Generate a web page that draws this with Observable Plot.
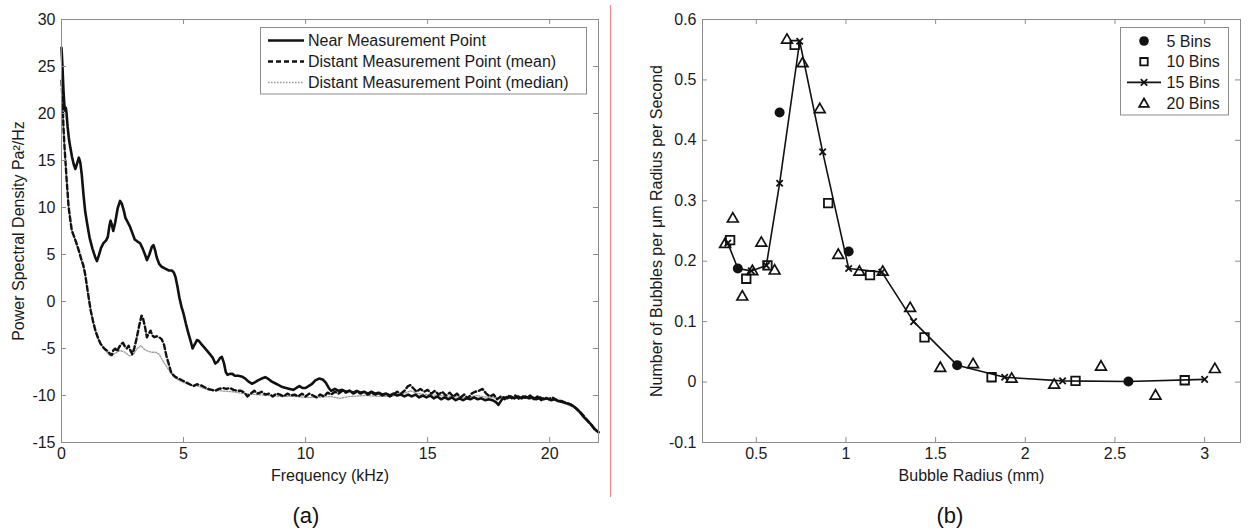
<!DOCTYPE html>
<html>
<head>
<meta charset="utf-8">
<script src="https://cdn.jsdelivr.net/npm/d3@7"></script>
<script src="https://cdn.jsdelivr.net/npm/@observablehq/plot@0.6"></script>
<style>
  html, body { margin: 0; padding: 0; background: #fff; }
  #wrap { position: relative; width: 1259px; height: 531px; background: #fff; overflow: hidden; }
  #pa { position: absolute; left: 0; top: 0; }
  #pb { position: absolute; left: 620px; top: 0; }
  #ov { position: absolute; left: 0; top: 0; pointer-events: none; }
</style>
</head>
<body>
<div id="wrap">
  <div id="pa"></div>
  <div id="pb"></div>
  <svg id="ov" width="1259" height="531"></svg>
</div>
<script>
// ---------------- Panel (a) data ----------------
const aXTicks = [0, 5, 10, 15, 20];
const aYTicks = [-15, -10, -5, 0, 5, 10, 15, 20, 25, 30];
const aSeriesNames = ["Near Measurement Point", "Distant Measurement Point (mean)", "Distant Measurement Point (median)"];

const nearFreq = [0,0.04,0.08,0.12,0.15,0.18,0.21,0.25,0.3,0.36,0.43,0.5,0.57,0.64,0.71,0.77,0.83,0.9,0.97,1.05,1.15,1.27,1.37,1.45,1.53,1.62,1.72,1.83,1.9,1.96,2.01,2.06,2.12,2.2,2.3,2.4,2.47,2.55,2.62,2.7,2.8,2.9,3.0,3.1,3.22,3.33,3.42,3.5,3.6,3.7,3.77,3.83,3.9,4.0,4.1,4.25,4.4,4.52,4.6,4.67,4.75,4.83,4.92,5.0,5.1,5.2,5.3,5.37,5.45,5.55,5.63,5.72,5.82,5.95,6.08,6.2,6.3,6.4,6.5,6.57,6.65,6.73,6.8,6.9,7.0,7.1,7.25,7.4,7.53,7.65,7.8,7.92,8.05,8.2,8.35,8.45,8.6,8.75,8.9,9.05,9.2,9.35,9.5,9.62,9.75,9.87,10.0,10.12,10.25,10.4,10.55,10.7,10.82,10.95,11.05,11.2,11.35,11.5,11.65,11.8,11.95,12.1,12.25,12.4,12.55,12.7,12.85,13.0,13.15,13.3,13.45,13.6,13.75,13.9,14.05,14.2,14.35,14.5,14.65,14.8,14.95,15.1,15.25,15.4,15.55,15.7,15.85,16.0,16.15,16.3,16.45,16.6,16.75,16.9,17.05,17.2,17.35,17.5,17.65,17.8,17.9,18.0,18.1,18.25,18.4,18.55,18.7,18.85,19.0,19.15,19.3,19.45,19.6,19.75,19.9,20.05,20.2,20.35,20.5,20.65,20.8,20.95,21.1,21.25,21.4,21.55,21.7,21.85,22.0];
const nearPSD = [27.0,25.0,22.5,20.8,20.3,20.6,19.9,18.6,17.4,16.4,15.4,14.6,14.1,14.7,15.3,14.8,13.5,11.4,9.6,8.3,6.8,5.6,4.8,4.3,4.9,5.7,6.2,6.5,6.9,8.0,8.6,8.2,7.5,8.4,9.9,10.7,10.4,9.7,8.9,8.5,8.0,7.3,6.6,6.4,6.2,5.6,5.0,4.4,5.0,5.8,6.0,5.5,4.7,4.0,3.7,3.5,3.3,3.3,3.1,2.6,1.6,0.4,-0.6,-1.3,-2.4,-3.4,-4.3,-5.0,-4.6,-4.1,-4.2,-4.5,-4.8,-5.2,-5.6,-6.0,-6.6,-6.4,-6.0,-5.9,-6.5,-7.5,-7.8,-7.7,-7.7,-7.9,-7.9,-8.0,-8.2,-8.5,-8.75,-8.6,-8.4,-8.2,-8.05,-8.2,-8.5,-8.7,-8.9,-9.1,-9.2,-9.3,-9.4,-9.2,-9.0,-9.2,-9.2,-9.0,-8.8,-8.4,-8.2,-8.3,-8.6,-9.2,-9.5,-9.3,-9.5,-9.4,-9.6,-9.5,-9.7,-9.5,-9.7,-9.6,-9.8,-9.6,-9.8,-9.7,-9.9,-9.8,-10.0,-9.8,-10.0,-9.9,-10.1,-9.9,-10.1,-9.9,-10.2,-10.0,-10.2,-10.0,-10.3,-10.1,-10.4,-10.2,-10.4,-10.2,-10.5,-10.3,-10.5,-10.3,-10.4,-10.2,-10.4,-10.3,-10.5,-10.4,-10.5,-10.7,-11.0,-10.6,-10.2,-10.3,-10.1,-10.3,-10.1,-10.3,-10.1,-10.3,-10.2,-10.4,-10.2,-10.4,-10.3,-10.5,-10.4,-10.6,-10.6,-10.8,-10.9,-11.1,-11.4,-11.8,-12.3,-12.7,-13.1,-13.6,-13.9];

const meanFreq = [0,0.04,0.08,0.12,0.16,0.22,0.29,0.36,0.42,0.5,0.6,0.7,0.8,0.9,0.97,1.05,1.12,1.2,1.3,1.4,1.5,1.6,1.75,1.9,2.0,2.06,2.12,2.2,2.28,2.35,2.45,2.52,2.6,2.68,2.75,2.82,2.9,2.98,3.08,3.18,3.28,3.35,3.42,3.5,3.58,3.65,3.72,3.8,3.9,4.0,4.1,4.2,4.3,4.4,4.5,4.65,4.8,4.95,5.1,5.25,5.4,5.55,5.7,5.85,6.0,6.15,6.3,6.45,6.6,6.75,6.9,7.05,7.2,7.35,7.5,7.62,7.75,7.9,8.05,8.2,8.35,8.5,8.65,8.8,8.95,9.1,9.25,9.4,9.55,9.7,9.85,10.0,10.15,10.3,10.45,10.6,10.75,10.9,11.05,11.2,11.35,11.5,11.65,11.8,11.95,12.1,12.25,12.4,12.55,12.7,12.85,13.0,13.15,13.3,13.45,13.6,13.75,13.9,14.05,14.2,14.3,14.4,14.55,14.7,14.85,15.0,15.15,15.3,15.45,15.6,15.75,15.9,16.05,16.2,16.35,16.5,16.65,16.8,16.95,17.1,17.25,17.4,17.55,17.7,17.85,18.0,18.15,18.3,18.45,18.6,18.75,18.9,19.05,19.2,19.35,19.5,19.65,19.8,19.95,20.1,20.3,20.5,20.7,20.9,21.1,21.3,21.5,21.7,21.85,22.0];
const meanPSD = [23.5,21.5,18.6,16.6,15.0,12.6,10.1,8.7,7.6,7.0,6.3,5.5,4.6,3.8,2.9,1.5,0.3,-1.0,-2.2,-3.2,-3.9,-4.5,-5.0,-5.3,-5.6,-5.7,-5.2,-5.0,-5.3,-4.9,-4.5,-4.4,-4.8,-5.0,-4.7,-5.2,-5.6,-5.0,-3.9,-2.6,-1.5,-1.9,-2.7,-3.8,-3.4,-3.1,-3.6,-3.8,-3.7,-3.8,-4.0,-4.6,-5.8,-6.7,-7.6,-8.0,-8.2,-8.4,-8.6,-8.8,-9.0,-8.8,-8.9,-9.1,-9.3,-9.4,-9.5,-9.3,-9.2,-9.3,-9.2,-9.4,-9.5,-9.5,-9.7,-10.1,-9.8,-9.5,-9.8,-9.6,-9.9,-9.8,-10.1,-9.8,-9.9,-10.1,-9.8,-10.0,-9.9,-10.1,-9.8,-10.1,-9.8,-10.0,-10.2,-9.9,-10.1,-9.7,-9.9,-9.6,-9.8,-9.5,-9.7,-9.5,-9.8,-9.6,-9.8,-9.6,-9.9,-9.7,-9.9,-9.8,-10.0,-9.8,-10.1,-9.9,-9.6,-9.8,-9.5,-9.0,-8.9,-9.2,-9.6,-9.3,-9.6,-9.4,-9.8,-9.5,-9.9,-9.6,-10.0,-9.7,-10.1,-9.8,-10.2,-9.9,-10.3,-9.8,-9.6,-9.5,-9.3,-9.8,-10.1,-9.9,-10.4,-10.1,-10.4,-10.0,-10.3,-10.0,-10.4,-10.1,-10.3,-10.0,-10.4,-10.1,-10.5,-10.2,-10.4,-10.2,-10.5,-10.7,-10.8,-11.0,-11.4,-11.9,-12.5,-13.1,-13.6,-13.9];

const medianFreq = [0,0.08,0.16,0.29,0.42,0.6,0.8,0.97,1.12,1.3,1.5,1.75,2.0,2.2,2.4,2.6,2.8,2.95,3.1,3.25,3.4,3.55,3.7,3.85,4.0,4.15,4.3,4.45,4.6,4.75,5.0,5.3,5.6,6.0,6.5,7.0,7.5,8.0,8.5,9.0,9.5,10.0,10.5,11.0,11.4,11.8,12.5,13.0,13.5,14.0,14.3,14.6,15.0,15.5,16.0,16.5,17.0,17.5,18.0,18.5,19.0,19.5,20.0,20.5,21.0,21.5,22.0];
const medianPSD = [23.0,18.3,14.8,10.0,7.5,6.2,4.5,2.8,0.2,-2.3,-4.0,-5.1,-5.8,-5.5,-5.2,-5.4,-5.8,-5.6,-5.0,-4.7,-5.1,-5.3,-5.4,-5.4,-5.6,-6.3,-6.9,-7.5,-8.0,-8.3,-8.6,-8.9,-9.0,-9.4,-9.5,-9.6,-9.8,-9.9,-10.0,-10.1,-10.1,-10.2,-10.2,-10.1,-10.3,-10.1,-10.0,-10.1,-10.1,-9.8,-9.5,-9.8,-9.9,-10.0,-10.1,-10.2,-10.0,-10.2,-10.3,-10.3,-10.3,-10.4,-10.4,-10.7,-11.3,-12.5,-13.9];

// ---------------- Panel (b) data ----------------
const bXTicks = [0.5, 1, 1.5, 2, 2.5, 3];
const bYTicks = [-0.1, 0, 0.1, 0.2, 0.3, 0.4, 0.5, 0.6];
const bSeriesNames = ["5 Bins", "10 Bins", "15 Bins", "20 Bins"];

const bins5R = [0.397, 0.630, 1.015, 1.620, 2.575];
const bins5N = [0.188, 0.446, 0.216, 0.028, 0.001];

const bins10R = [0.354, 0.444, 0.562, 0.714, 0.901, 1.134, 1.438, 1.812, 2.280, 2.889];
const bins10N = [0.235, 0.171, 0.193, 0.558, 0.296, 0.177, 0.074, 0.008, 0.002, 0.003];

const bins15R = [0.341, 0.397, 0.472, 0.556, 0.630, 0.742, 0.870, 1.015, 1.200, 1.377, 1.620, 1.885, 2.208, 2.575, 3.000];
const bins15N = [0.230, 0.188, 0.184, 0.193, 0.329, 0.564, 0.381, 0.188, 0.182, 0.100, 0.028, 0.008, 0.002, 0.001, 0.0045];

const bins20R = [0.326, 0.369, 0.422, 0.478, 0.528, 0.602, 0.671, 0.758, 0.854, 0.957, 1.075, 1.205, 1.358, 1.526, 1.709, 1.924, 2.161, 2.422, 2.726, 3.057];
const bins20N = [0.228, 0.270, 0.141, 0.183, 0.230, 0.184, 0.566, 0.527, 0.451, 0.210, 0.182, 0.182, 0.122, 0.023, 0.029, 0.005, -0.005, 0.025, -0.023, 0.021];

// ---------------- Styling ----------------
const FONT = "'Liberation Sans', Arial, Helvetica, sans-serif";
const AX = "#8c8c8c";
const INK = "#111";
const TICK = 5;

function idx(a) { return d3.range(a.length); }

function frameTicks(xt, yt, pw, ph) {
  return [
    Plot.tickX(xt, {x: d => d, insetTop: ph - TICK, stroke: AX}),
    Plot.tickX(xt, {x: d => d, insetBottom: ph - TICK, stroke: AX}),
    Plot.tickY(yt, {y: d => d, insetRight: pw - TICK, stroke: AX}),
    Plot.tickY(yt, {y: d => d, insetLeft: pw - TICK, stroke: AX})
  ];
}

// Panel (a)
const A = {width: 610, height: 531, ml: 61, mr: 12, mt: 19, mb: 89};
const aPW = A.width - A.ml - A.mr, aPH = A.height - A.mt - A.mb;
const plotA = Plot.plot({
  width: A.width, height: A.height,
  marginLeft: A.ml, marginRight: A.mr, marginTop: A.mt, marginBottom: A.mb,
  style: {fontFamily: FONT, fontSize: "16px", color: "#1a1a1a", background: "transparent", overflow: "visible"},
  x: {domain: [0, 22]},
  y: {domain: [-15, 30]},
  marks: [
    Plot.line(idx(medianFreq), {x: i => medianFreq[i], y: i => medianPSD[i], stroke: "#9a9a9a", strokeWidth: 1.3, strokeDasharray: "1.5,1.5"}),
    Plot.line(idx(meanFreq), {x: i => meanFreq[i], y: i => meanPSD[i], stroke: INK, strokeWidth: 2.4, strokeDasharray: "5,3"}),
    Plot.line(idx(nearFreq), {x: i => nearFreq[i], y: i => nearPSD[i], stroke: INK, strokeWidth: 2.6}),
    Plot.frame({stroke: AX}),
    ...frameTicks(aXTicks, aYTicks, aPW, aPH),
    Plot.axisX({ticks: aXTicks, tickSize: 0, tickPadding: 5, label: null, tickFormat: d => String(d)}),
    Plot.axisY({ticks: aYTicks, tickSize: 0, tickPadding: 6, label: null, tickFormat: d => String(d)}),
    Plot.text(["Frequency (kHz)"], {text: d => d, frameAnchor: "bottom", dy: 33, lineAnchor: "middle", textAnchor: "middle", fontSize: 16}),
    Plot.text(["Power Spectral Density Pa²/Hz"], {text: d => d, frameAnchor: "left", dx: -43, rotate: -90, lineAnchor: "middle", textAnchor: "middle", fontSize: 16})
  ]
});
document.getElementById("pa").appendChild(plotA);

// Panel (b)
const B = {width: 639, height: 531, ml: 82, mr: 19, mt: 19, mb: 89};
const bPW = B.width - B.ml - B.mr, bPH = B.height - B.mt - B.mb;
const plotB = Plot.plot({
  width: B.width, height: B.height,
  marginLeft: B.ml, marginRight: B.mr, marginTop: B.mt, marginBottom: B.mb,
  style: {fontFamily: FONT, fontSize: "16px", color: "#1a1a1a", background: "transparent", overflow: "visible"},
  x: {domain: [0.2, 3.2]},
  y: {domain: [-0.1, 0.6]},
  marks: [
    Plot.frame({stroke: AX}),
    ...frameTicks(bXTicks, bYTicks, bPW, bPH),
    Plot.axisX({ticks: bXTicks, tickSize: 0, tickPadding: 5, label: null, tickFormat: d => String(d)}),
    Plot.axisY({ticks: bYTicks, tickSize: 0, tickPadding: 6, label: null, tickFormat: d => String(d)}),
    Plot.line(idx(bins15R), {x: i => bins15R[i], y: i => bins15N[i], stroke: INK, strokeWidth: 1.6}),
    Plot.dot(idx(bins15R), {x: i => bins15R[i], y: i => bins15N[i], symbol: "times", r: 3, stroke: INK, strokeWidth: 1.8}),
    Plot.dot(idx(bins5R), {x: i => bins5R[i], y: i => bins5N[i], symbol: "circle", r: 5, fill: INK, stroke: "none"}),
    Plot.dot(idx(bins10R), {x: i => bins10R[i], y: i => bins10N[i], symbol: "square", r: 4.8, fill: "none", stroke: INK, strokeWidth: 1.8}),
    Plot.dot(idx(bins20R), {x: i => bins20R[i], y: i => bins20N[i], symbol: "triangle", r: 4, fill: "none", stroke: INK, strokeWidth: 1.7}),
    Plot.text(["Bubble Radius (mm)"], {text: d => d, frameAnchor: "bottom", dy: 33, lineAnchor: "middle", textAnchor: "middle", fontSize: 16}),
    Plot.text(["Number of Bubbles per μm Radius per Second"], {text: d => d, frameAnchor: "left", dx: -46, rotate: -90, lineAnchor: "middle", textAnchor: "middle", fontSize: 16})
  ]
});
document.getElementById("pb").appendChild(plotB);

// ---------------- Overlay: legends, separator, panel labels ----------------
const ov = d3.select("#ov").style("font-family", FONT);
ov.append("line").attr("x1", 610.5).attr("x2", 610.5).attr("y1", 5).attr("y2", 497)
  .attr("stroke", "#f08a8a").attr("stroke-width", 1.2);

// Legend (a)
const legA = ov.append("g");
legA.append("rect").attr("x", 260.5).attr("y", 27.5).attr("width", 326).attr("height", 66.5)
  .attr("fill", "#fff").attr("stroke", AX);
const aStyles = [
  {stroke: INK, w: 2.6, dash: null},
  {stroke: INK, w: 2.4, dash: "5,3"},
  {stroke: "#9a9a9a", w: 1.3, dash: "1.5,1.5"}
];
aSeriesNames.forEach((name, i) => {
  const y = 40.5 + i * 21;
  legA.append("line").attr("x1", 268).attr("x2", 304).attr("y1", y).attr("y2", y)
    .attr("stroke", aStyles[i].stroke).attr("stroke-width", aStyles[i].w)
    .attr("stroke-dasharray", aStyles[i].dash);
  legA.append("text").attr("x", 308).attr("y", y).attr("dy", "0.36em")
    .attr("font-size", 16).attr("fill", "#1a1a1a").text(name);
});

// Legend (b)
const legB = ov.append("g");
legB.append("rect").attr("x", 1120.5).attr("y", 27.5).attr("width", 108).attr("height", 87.5)
  .attr("fill", "#fff").attr("stroke", AX);
const sym = (type, r) => d3.symbol(type, Math.PI * r * r)();
bSeriesNames.forEach((name, i) => {
  const y = 41 + i * 20.7;
  const g = legB.append("g");
  if (i === 0) g.append("path").attr("transform", `translate(1144,${y})`).attr("d", sym(d3.symbolCircle, 4.8)).attr("fill", INK);
  if (i === 1) g.append("path").attr("transform", `translate(1144,${y})`).attr("d", sym(d3.symbolSquare, 4.2)).attr("fill", "none").attr("stroke", INK).attr("stroke-width", 1.8);
  if (i === 2) {
    g.append("line").attr("x1", 1127).attr("x2", 1161).attr("y1", y).attr("y2", y).attr("stroke", INK).attr("stroke-width", 1.6);
    g.append("path").attr("transform", `translate(1144,${y})`).attr("d", sym(d3.symbolTimes, 3)).attr("fill", "none").attr("stroke", INK).attr("stroke-width", 1.8);
  }
  if (i === 3) g.append("path").attr("transform", `translate(1144,${y + 1})`).attr("d", sym(d3.symbolTriangle, 3.6)).attr("fill", "none").attr("stroke", INK).attr("stroke-width", 1.7);
  legB.append("text").attr("x", 1166.5).attr("y", y).attr("dy", "0.36em")
    .attr("font-size", 16).attr("fill", "#1a1a1a").text(name);
});

// Panel labels
ov.append("text").attr("x", 306).attr("y", 515).attr("dy", "0.35em").attr("text-anchor", "middle")
  .attr("font-size", 22).attr("fill", "#111").text("(a)");
ov.append("text").attr("x", 950).attr("y", 515).attr("dy", "0.35em").attr("text-anchor", "middle")
  .attr("font-size", 22).attr("fill", "#111").text("(b)");
</script>
</body>
</html>
